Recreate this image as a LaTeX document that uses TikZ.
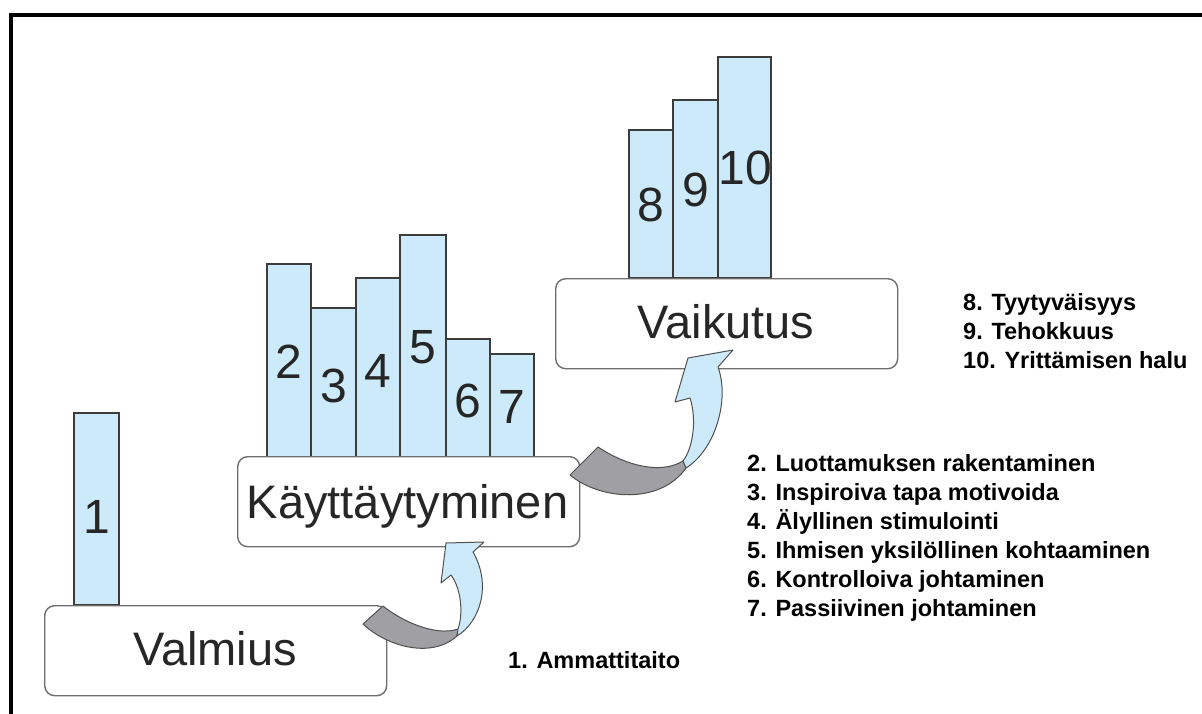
\documentclass[tikz,border=0pt]{standalone}
\usepackage{fontspec}
\setmainfont{Liberation Sans}
\definecolor{barblue}{RGB}{204,234,250}
\definecolor{bardraw}{RGB}{60,60,60}
\definecolor{boxdraw}{RGB}{110,110,110}
\definecolor{tailgray}{RGB}{160,160,164}
\definecolor{arrowdraw}{RGB}{80,80,80}
\tikzset{
 barbox/.style={draw=bardraw, fill=barblue, line width=1.2pt},
 stagebox/.style={draw=boxdraw, fill=white, line width=1.4pt, rounded corners=10pt, anchor=north west, minimum width=342pt, minimum height=90pt, inner sep=0pt},
 digit/.style={anchor=base, inner sep=0pt, font=\fontsize{48}{56}\selectfont, text=black!85},
 stagetext/.style={anchor=base, inner sep=0pt, font=\fontsize{47}{56}\selectfont, text=black!85},
 item/.style={anchor=base west, inner sep=0pt, font=\bfseries\fontsize{23.5}{28}\selectfont},
 tailpart/.style={fill=tailgray, draw=arrowdraw, line width=1pt, line join=round},
 headpart/.style={fill=barblue, draw=arrowdraw, line width=1pt, line join=round},
}
\begin{document}
\begin{tikzpicture}[x=1pt,y=-1pt]
\useasboundingbox (0,0) rectangle (1202,714);
\fill[white] (0,0) rectangle (1202,714);
% frame
\draw[line width=3.5pt] (11,714) -- (11,15) -- (1202,15);

% bars
\draw[barbox] (74,605) rectangle (119,413);
\draw[barbox] (267,457) rectangle (311,264);
\draw[barbox] (311,457) rectangle (356,308);
\draw[barbox] (356,457) rectangle (400,278);
\draw[barbox] (400,457) rectangle (446,235);
\draw[barbox] (446,457) rectangle (490,339);
\draw[barbox] (490,457) rectangle (534,354);
\draw[barbox] (629,278) rectangle (673,130);
\draw[barbox] (673,278) rectangle (718,100);
\draw[barbox] (718,278) rectangle (771,57);

\node[digit] (d1) at (96.5,533) {1};
\node[digit] (d2) at (289,378) {2};
\node[digit] (d3) at (333.5,402) {3};
\node[digit] (d4) at (378,387) {4};
\node[digit] (d5) at (423,363) {5};
\node[digit] (d6) at (468,417) {6};
\node[digit] (d7) at (512,423) {7};
\node[digit] (d8) at (651,222) {8};
\node[digit] (d9) at (695.5,207) {9};
\node[digit] (d10) at (745,185) {10};

% stage boxes
\node[stagebox] (valmius) at (44,605) {};
\node[stagebox] (kaytt) at (237,456) {};
\node[stagebox] (vaikutus) at (555,278) {};
\node[stagetext] (tvalmius) at (215,665) {Valmius};
\node[stagetext] (tkaytt) at (407.5,518) {Käyttäytyminen};
\node[stagetext] (tvaikutus) at (726,338) {Vaikutus};

% curved arrow 1
\draw[tailpart] (363,624) .. controls (385,645) and (430,660) .. (457,636) -- (458,629) .. controls (435,637) and (400,620) .. (383,606) -- cycle;
\draw[headpart] (457,636) .. controls (480,622) and (492,585) .. (473,552) -- (484,542) -- (446,543) -- (441,583) -- (451,575) .. controls (462,590) and (463,615) .. (458,629) -- cycle;

% curved arrow 2
\draw[tailpart] (570,475) .. controls (600,500) and (660,505) .. (686,468) -- (683,461) .. controls (660,475) and (625,465) .. (598,447) -- cycle;
\draw[headpart] (686,468) .. controls (715,450) and (730,400) .. (718,367) -- (733,350) -- (688,358) -- (675,402) -- (690,398) .. controls (697,420) and (693,448) .. (683,461) -- cycle;

% lists
\node[item] (l1) at (508,668.5) {1. Ammattitaito};
\node[item] (l2) at (747,471.5) {2. Luottamuksen rakentaminen};
\node[item] (l3) at (747,500.5) {3. Inspiroiva tapa motivoida};
\node[item] (l4) at (747,529.5) {4. Älyllinen stimulointi};
\node[item] (l5) at (747,558.5) {5. Ihmisen yksilöllinen kohtaaminen};
\node[item] (l6) at (747,587.5) {6. Kontrolloiva johtaminen};
\node[item] (l7) at (747,616.5) {7. Passiivinen johtaminen};
\node[item] (l8) at (963,310) {8. Tyytyväisyys};
\node[item] (l9) at (963,339) {9. Tehokkuus};
\node[item] (l10) at (963,368) {10. Yrittämisen halu};
\end{tikzpicture}
\end{document}
